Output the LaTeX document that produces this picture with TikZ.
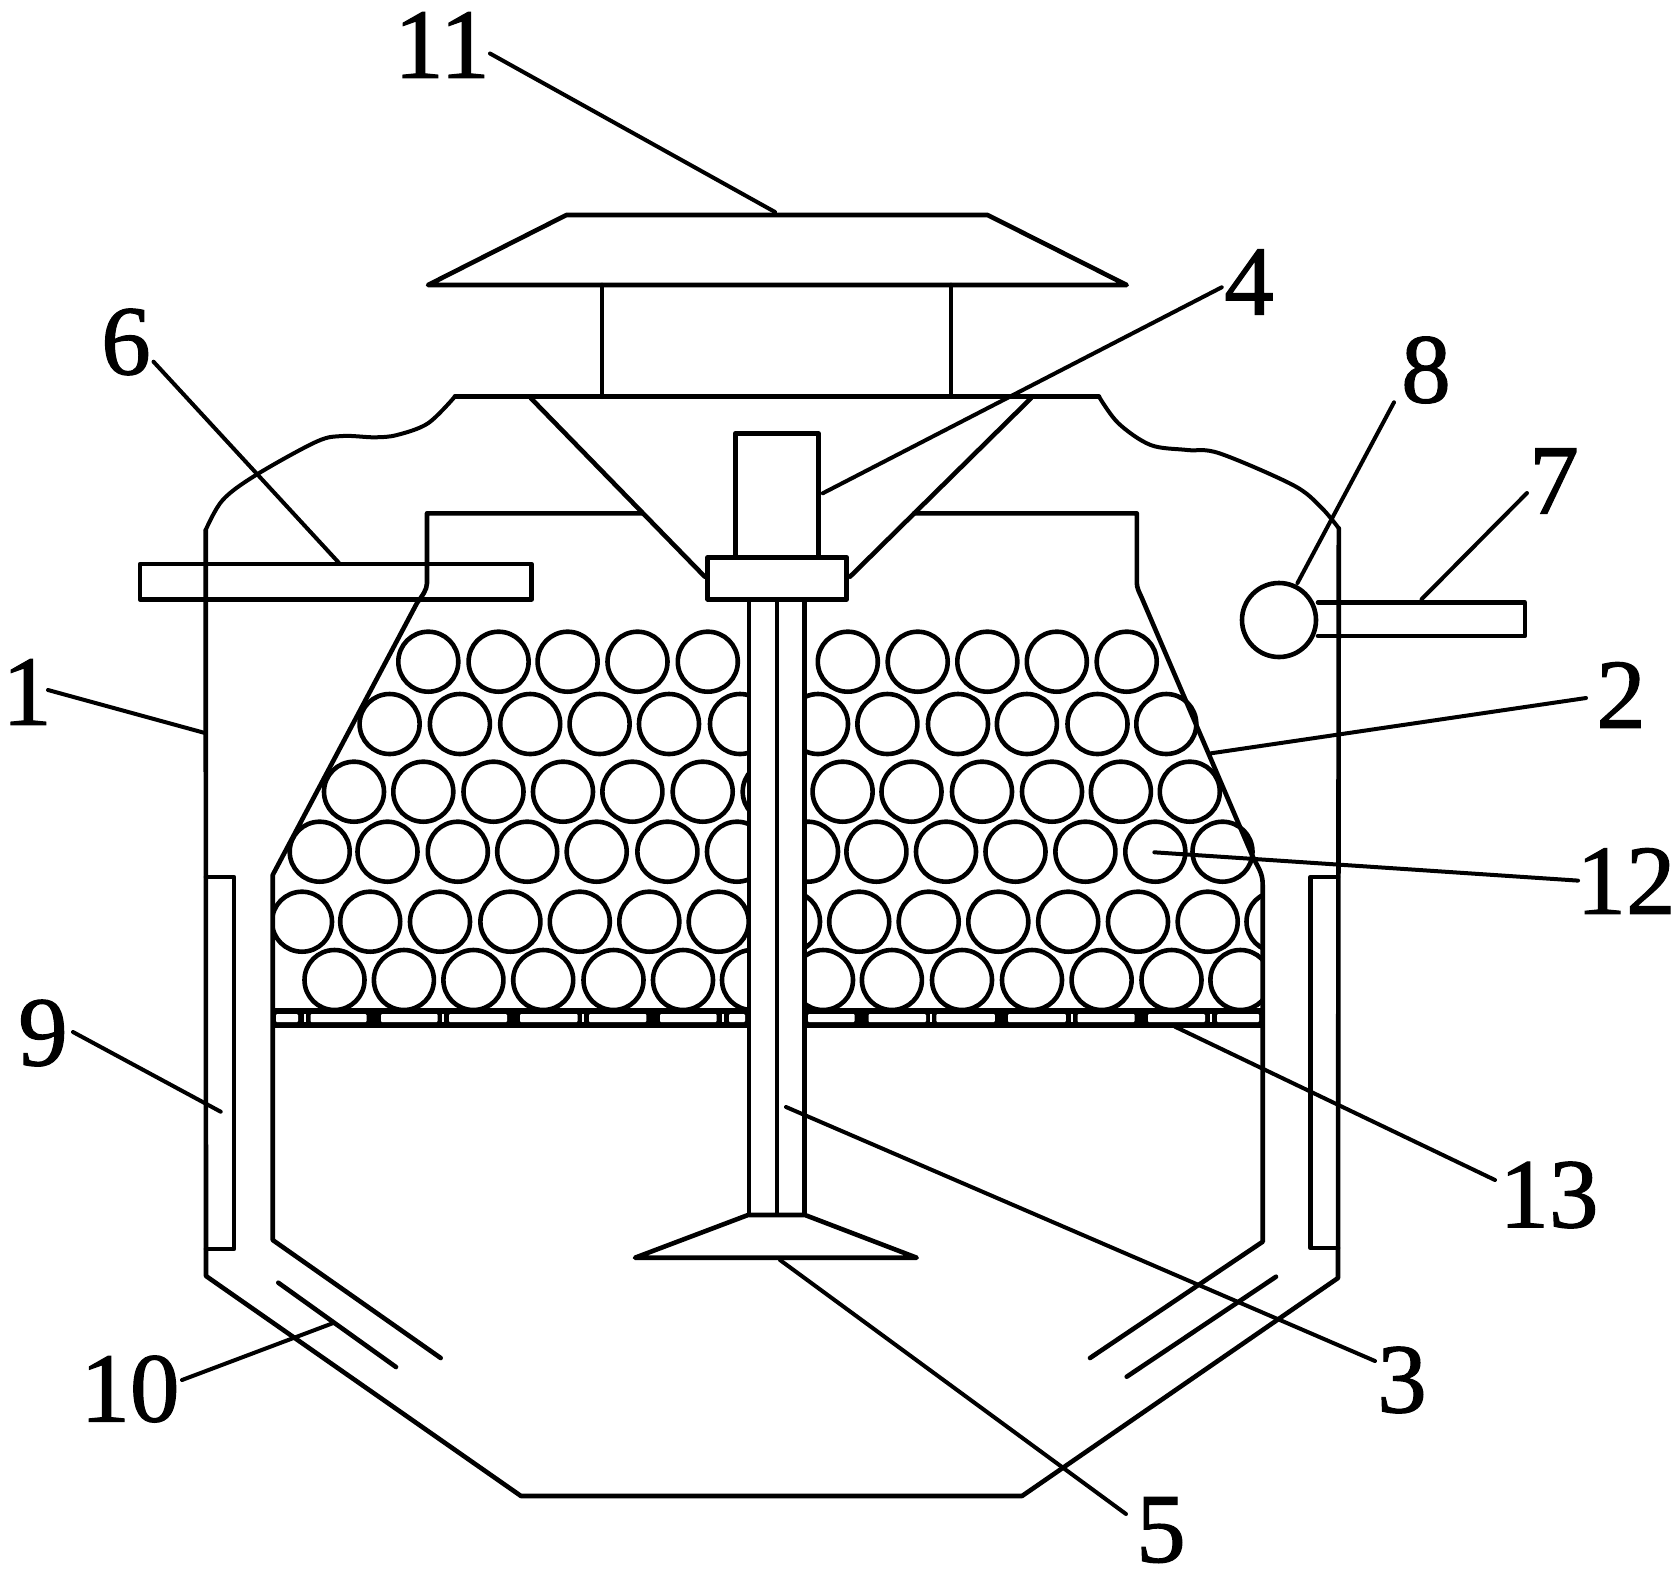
\documentclass[tikz,border=0pt]{standalone}
\usepackage{fontspec}
\setmainfont{Liberation Serif}
\font\numfont="Liberation Serif:embolden=1.2" at 99pt
\tikzset{
  part/.style={line width=4.6pt,line join=round,line cap=round},
  curvepart/.style={line width=4pt,line join=round,line cap=round},
  leader/.style={line width=4pt,line cap=round},
  ball/.style={line width=4.6pt},
  num/.style={font=\numfont,inner sep=0pt,text=black}
}
\begin{document}
\begin{tikzpicture}[x=1pt,y=-1pt]
\useasboundingbox (0,0) rectangle (1678,1580);
% filter balls
\begin{scope}
\clip (272.7,600) rectangle (1262.7,1012);
\foreach \px in {428.3,498.6,567.6,637.5,707.8,847.8,917.7,987.3,1056.8,1126.7} \draw[ball] (\px,661.7) circle (30);
\foreach \px in {389.6,459.9,530.2,599.6,669,740,818,887.4,958,1026.9,1097.5,1166.3} \draw[ball] (\px,724) circle (30);
\foreach \px in {354,423.3,493.5,563,632.4,702.7,772.7,842.6,911.5,982,1052,1120.9,1189.8} \draw[ball] (\px,791.7) circle (30);
\foreach \px in {319.7,387.5,457.8,527.2,596.7,667.4,737,808,876.4,946,1015.5,1085.4,1155.3,1222.5} \draw[ball] (\px,851.7) circle (30);
\foreach \px in {302,370.2,440,510.4,579.8,649.3,718.7,790,859.2,928.7,998.3,1068.2,1138,1207.7,1276.5} \draw[ball] (\px,921.7) circle (30);
\foreach \px in {334.5,403.9,473.4,543.2,613.5,683,752,823,891.9,962,1032,1101.6,1171.5,1240.4} \draw[ball] (\px,980) circle (30);
\end{scope}
% perforated plate
\fill[black] (272.7,1008.3) rectangle (747,1028.3);
\fill[black] (807,1008.3) rectangle (1262.7,1028.3);
\foreach \a/\b in {276/298,310.5/366.5,381/437.6,449/507,520/577.7,589/646.3,660/716.6,729/745,
                   808/854.7,868.5/926,936.3/994.8,1008/1065.8,1077.5/1134.7,1148/1205,1217/1259}
  \fill[white,rounded corners=1pt] (\a,1014) rectangle (\b,1022);
\foreach \m in {304.5,443,583,723,931,1071.5,1211}
  \fill[white] (\m-1,1014) rectangle (\m+1,1022);
% outer shell
\draw[curvepart] plot[smooth,tension=0.55] coordinates {(454.8,396.7) (428,423.3) (397,435) (374.5,437.3) (343,436) (316.4,441.7) (256,475) (222.7,500) (205.7,530)};
\draw[curvepart] plot[smooth,tension=0.55] coordinates {(1099,396.7) (1118.4,423.3) (1150.6,445) (1187.3,450) (1219.4,453.3) (1292.9,485) (1320.5,506.7) (1338.8,528.3)};
\draw[part] (205.7,530) -- (206,1276) -- (521,1496) -- (1022,1496) -- (1338,1278) -- (1338.8,528.3);
\draw[part] (454.8,396.7) -- (1099,396.7);
% inner tank
\draw[part] (642,513.3) -- (427,513.3) -- (427,583) .. controls (427,590) and (422,596) .. (417,603)
  -- (272.7,875) -- (272.7,1240) -- (440.7,1358);
\draw[part] (914,513.3) -- (1136.8,513.3) -- (1136.8,583) .. controls (1137,588) and (1139,592) .. (1141.4,597)
  -- (1252,855) .. controls (1258,868) and (1262.7,872) .. (1262.7,885) -- (1262.7,1241.7) -- (1090,1358);
% cooling jackets and bottom coils
\draw[part] (206,877) -- (234,877) -- (234,1249) -- (206,1249);
\draw[part] (1338,877) -- (1310.7,877) -- (1310.7,1248) -- (1338,1248);
\draw[part] (278.3,1282.7) -- (396,1367);
\draw[part] (1276,1276.7) -- (1126.7,1376.7);
% roof
\draw[part] (428,285) -- (566.4,215) -- (987.6,215) -- (1126.7,285) -- cycle;
\draw[part] (602,285) -- (602,396.7);
\draw[part] (950.9,285) -- (950.9,396.7);
\draw[part] (530.7,398) -- (704.8,576.7);
\draw[part] (1031.2,398) -- (850,576.7);
% pipes
\draw[part] (140,564) rectangle (531.6,599.3);
\draw[part] (1318,602.3) -- (1524.8,602.3) -- (1524.8,636) -- (1318,636);
\draw[part,fill=white] (1279,620) circle (37);
% shaft, motor, blade
\fill[white] (749,599) rectangle (804.5,1215);
\draw[part] (749,599) -- (749,1215);
\draw[part] (777,599) -- (777,1215);
\draw[part] (804.5,599) -- (804.5,1215);
\draw[part,fill=white] (735.3,557) -- (735.3,433.3) -- (818.3,433.3) -- (818.3,557);
\draw[part,fill=white] (707.7,557.3) rectangle (846.7,599.3);
\draw[part,fill=white] (748,1215) -- (805,1215) -- (916.7,1257.7) -- (635,1257.7) -- cycle;
% labels
\node[num] (n11) at (442,45) {11};
\node[num] (n6) at (126,342) {6};
\node[num] (n4) at (1249,282) {4};
\node[num] (n8) at (1426,370) {8};
\node[num] (n7) at (1554,481) {7};
\node[num] (n1) at (27,692) {1};
\node[num] (n2) at (1621,695) {2};
\node[num] (n12) at (1626,881) {12};
\node[num] (n9) at (43,1033) {9};
\node[num] (n10) at (130,1389) {10};
\node[num] (n13) at (1549,1195) {13};
\node[num] (n3) at (1402,1380) {3};
\node[num] (n5) at (1161,1530) {5};
% leader ends
\coordinate (a11) at (490,53.5);  \coordinate (b11) at (775,212);
\coordinate (a6) at (153.5,361.7); \coordinate (b6) at (338.8,562.7);
\coordinate (a4) at (1221.7,287.3); \coordinate (b4) at (822.7,493.3);
\coordinate (a8) at (1394,402.3); \coordinate (b8) at (1297.5,583);
\coordinate (a7) at (1527,493); \coordinate (b7) at (1421.5,599.3);
\coordinate (a1) at (48,690); \coordinate (b1) at (205,733);
\coordinate (a2) at (1586,698); \coordinate (b2) at (1211,753.3);
\coordinate (a12) at (1578,880.6); \coordinate (b12) at (1154.3,852.3);
\coordinate (a9) at (73,1032); \coordinate (b9) at (220.7,1111.7);
\coordinate (a10) at (182,1380); \coordinate (b10) at (333.3,1323);
\coordinate (a13) at (1495,1180); \coordinate (b13) at (1175,1026.7);
\coordinate (a3) at (1375,1361); \coordinate (b3) at (786,1107);
\coordinate (a5) at (1126,1514); \coordinate (b5) at (780,1260);
\foreach \k in {11,6,4,8,7,1,2,12,9,10,13,3,5}
  \draw[leader] (a\k) -- (b\k);
\end{tikzpicture}
\end{document}
